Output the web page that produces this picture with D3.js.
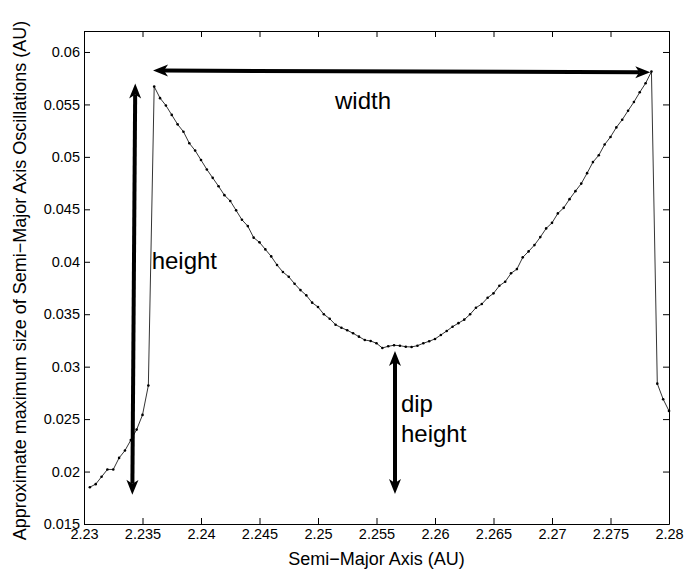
<!DOCTYPE html>
<html>
<head>
<meta charset="utf-8">
<script src="https://cdn.jsdelivr.net/npm/d3@7"></script>
<style>
  html, body { margin: 0; padding: 0; background: #fff; }
  svg text { font-family: "Liberation Sans", Arial, Helvetica, sans-serif; fill: #000; }
</style>
</head>
<body>
<svg id="chart" width="686" height="572"></svg>
<script>
// Semi-major axis samples (AU)
const semiMajor = [
  2.2305, 2.2310, 2.2315, 2.2320, 2.2325, 2.2330, 2.2335, 2.2340, 2.2345, 2.2350,
  2.2355, 2.2360, 2.2365, 2.2370, 2.2375, 2.2380, 2.2385, 2.2390, 2.2395, 2.2400,
  2.2405, 2.2410, 2.2415, 2.2420, 2.2425, 2.2430, 2.2435, 2.2440, 2.2445, 2.2450,
  2.2455, 2.2460, 2.2465, 2.2470, 2.2475, 2.2480, 2.2485, 2.2490, 2.2495, 2.2500,
  2.2505, 2.2510, 2.2515, 2.2520, 2.2525, 2.2530, 2.2535, 2.2540, 2.2545, 2.2550,
  2.2555, 2.2560, 2.2565, 2.2570, 2.2575, 2.2580, 2.2585, 2.2590, 2.2595, 2.2600,
  2.2605, 2.2610, 2.2615, 2.2620, 2.2625, 2.2630, 2.2635, 2.2640, 2.2645, 2.2650,
  2.2655, 2.2660, 2.2665, 2.2670, 2.2675, 2.2680, 2.2685, 2.2690, 2.2695, 2.2700,
  2.2705, 2.2710, 2.2715, 2.2720, 2.2725, 2.2730, 2.2735, 2.2740, 2.2745, 2.2750,
  2.2755, 2.2760, 2.2765, 2.2770, 2.2775, 2.2780, 2.2785, 2.2790, 2.2795, 2.2800
];

// Approximate maximum size of the semi-major axis oscillations (AU)
const oscillation = [
  0.01851, 0.01880, 0.01950, 0.02020, 0.02020, 0.02130, 0.02200, 0.02300, 0.02400, 0.02540,
  0.02820, 0.05670, 0.05560, 0.05490, 0.05400, 0.05310, 0.05240, 0.05130, 0.05060, 0.04970,
  0.04880, 0.04800, 0.04720, 0.04635, 0.04580, 0.04490, 0.04400, 0.04340, 0.04230, 0.04185,
  0.04118, 0.04051, 0.03969, 0.03902, 0.03857, 0.03790, 0.03730, 0.03680, 0.03610, 0.03569,
  0.03499, 0.03457, 0.03400, 0.03371, 0.03347, 0.03318, 0.03286, 0.03254, 0.03245, 0.03223,
  0.03178, 0.03194, 0.03204, 0.03200, 0.03190, 0.03188, 0.03200, 0.03223, 0.03242, 0.03264,
  0.03302, 0.03340, 0.03381, 0.03415, 0.03448, 0.03499, 0.03562, 0.03597, 0.03657, 0.03699,
  0.03771, 0.03810, 0.03890, 0.03930, 0.04042, 0.04099, 0.04159, 0.04235, 0.04318, 0.04371,
  0.04461, 0.04514, 0.04597, 0.04673, 0.04745, 0.04845, 0.04950, 0.05016, 0.05118, 0.05190,
  0.05281, 0.05354, 0.05440, 0.05523, 0.05616, 0.05702, 0.05813, 0.02838, 0.02690, 0.02578
];

const xTicks = [2.23, 2.235, 2.24, 2.245, 2.25, 2.255, 2.26, 2.265, 2.27, 2.275, 2.28];
const xTickLabels = ["2.23", "2.235", "2.24", "2.245", "2.25", "2.255", "2.26", "2.265", "2.27", "2.275", "2.28"];
const yTicks = [0.015, 0.02, 0.025, 0.03, 0.035, 0.04, 0.045, 0.05, 0.055, 0.06];
const yTickLabels = ["0.015", "0.02", "0.025", "0.03", "0.035", "0.04", "0.045", "0.05", "0.055", "0.06"];

// Double-headed arrows: [x1, y1, x2, y2] in data units
const arrowWidth  = [2.2359, 0.05823, 2.2784, 0.05807];
const arrowHeight = [2.23438, 0.05699, 2.23413, 0.01778];
const arrowDip    = [2.25658, 0.03150, 2.25658, 0.01786];

// Annotation labels: text, x, y (baseline) in data units
const noteLabels = [
  { text: "width",  x: 2.25385, y: 0.05454, anchor: "middle" },
  { text: "height", x: 2.23578, y: 0.03930, anchor: "start" },
  { text: "dip",    x: 2.25709, y: 0.02569, anchor: "start" },
  { text: "height", x: 2.25709, y: 0.02283, anchor: "start" }
];

const W = 686, H = 572;
const margin = { top: 31, right: 17, bottom: 48, left: 84 };
const iw = W - margin.left - margin.right;
const ih = H - margin.top - margin.bottom;

const svg = d3.select("#chart");
const g = svg.append("g").attr("transform", `translate(${margin.left},${margin.top})`);

const x = d3.scaleLinear().domain([2.23, 2.28]).range([0, iw]);
const y = d3.scaleLinear().domain([0.015, 0.062]).range([ih, 0]);

const tickLen = 6;

// Bottom axis (labels) and mirrored top ticks
const xAxisBottom = d3.axisBottom(x).tickValues(xTicks)
  .tickFormat((d, i) => xTickLabels[i]).tickSizeInner(-tickLen).tickSizeOuter(0).tickPadding(5);
const xAxisTop = d3.axisTop(x).tickValues(xTicks).tickFormat("").tickSizeInner(-tickLen).tickSizeOuter(0);
const yAxisLeft = d3.axisLeft(y).tickValues(yTicks)
  .tickFormat((d, i) => yTickLabels[i]).tickSizeInner(-tickLen).tickSizeOuter(0).tickPadding(4);
const yAxisRight = d3.axisRight(y).tickValues(yTicks).tickFormat("").tickSizeInner(-tickLen).tickSizeOuter(0);

function styleAxis(sel) {
  sel.selectAll(".domain").attr("stroke", "#000").attr("stroke-width", 1);
  sel.selectAll(".tick line").attr("stroke", "#000").attr("stroke-width", 1);
  sel.selectAll(".tick text").attr("fill", "#000").style("font-size", "14.5px")
    .style("font-family", '"Liberation Sans", Arial, Helvetica, sans-serif');
}

g.append("g").attr("transform", `translate(0,${ih})`).call(xAxisBottom).call(styleAxis);
g.append("g").call(xAxisTop).call(styleAxis);
g.append("g").call(yAxisLeft).call(styleAxis);
g.append("g").attr("transform", `translate(${iw},0)`).call(yAxisRight).call(styleAxis);

// Axis titles
svg.append("text")
  .attr("x", margin.left + iw / 2).attr("y", 565)
  .attr("text-anchor", "middle").style("font-size", "18px")
  .text("Semi\u2212Major Axis (AU)");

svg.append("text")
  .attr("transform", `translate(26,${margin.top + ih / 2 + 3}) rotate(-90)`)
  .attr("text-anchor", "middle").style("font-size", "18px")
  .text("Approximate maximum size of Semi\u2212Major Axis Oscillations (AU)");

// Data line with point markers
const pts = semiMajor.map((a, i) => [a, oscillation[i]]);
g.append("path")
  .datum(pts)
  .attr("fill", "none").attr("stroke", "#000").attr("stroke-width", 0.8)
  .attr("d", d3.line().x(d => x(d[0])).y(d => y(d[1])));

g.append("g").selectAll("circle").data(pts).join("circle")
  .attr("cx", d => x(d[0])).attr("cy", d => y(d[1])).attr("r", 1.3).attr("fill", "#000");

// Double-headed arrows
function doubleArrow(spec) {
  const x1 = x(spec[0]), y1 = y(spec[1]), x2 = x(spec[2]), y2 = y(spec[3]);
  const dx = x2 - x1, dy = y2 - y1, len = Math.hypot(dx, dy);
  const ux = dx / len, uy = dy / len, nx = -uy, ny = ux;
  const L = 15, HW = 6, N = 11;
  const head = (tx, ty, sx, sy) => {
    const p = [
      [tx, ty],
      [tx + sx * L + nx * HW, ty + sy * L + ny * HW],
      [tx + sx * N, ty + sy * N],
      [tx + sx * L - nx * HW, ty + sy * L - ny * HW]
    ];
    return "M" + p.map(q => q.join(",")).join("L") + "Z";
  };
  const a = g.append("g");
  a.append("line")
    .attr("x1", x1 + ux * N).attr("y1", y1 + uy * N)
    .attr("x2", x2 - ux * N).attr("y2", y2 - uy * N)
    .attr("stroke", "#000").attr("stroke-width", 4);
  a.append("path").attr("d", head(x1, y1, ux, uy)).attr("fill", "#000");
  a.append("path").attr("d", head(x2, y2, -ux, -uy)).attr("fill", "#000");
}
[arrowWidth, arrowHeight, arrowDip].forEach(doubleArrow);

// Annotation text
g.selectAll("text.note").data(noteLabels).join("text")
  .attr("class", "note")
  .attr("x", d => x(d.x)).attr("y", d => y(d.y))
  .attr("text-anchor", d => d.anchor)
  .style("font-size", "24px")
  .text(d => d.text);
</script>
</body>
</html>
